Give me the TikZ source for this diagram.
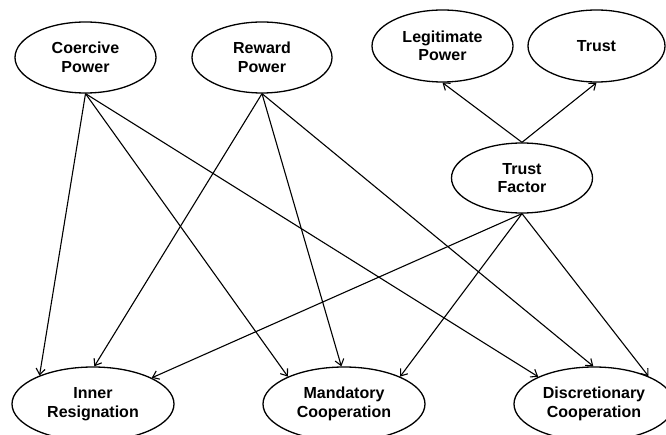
\documentclass[tikz,border=0pt]{standalone}
\usepackage{fontspec}
\setmainfont{Liberation Sans}
\usetikzlibrary{shapes.geometric,arrows.meta}
\tikzset{
  oval/.style={draw, ellipse, line width=1.3pt, inner sep=0pt, align=center,
    font=\fontsize{16}{18.5}\selectfont\bfseries},
  conn/.style={line width=1.1pt, -{Straight Barb[length=6pt,width=9pt,line width=1.1pt]}}
}
\begin{document}
\begin{tikzpicture}[x=1pt,y=-1pt]
\useasboundingbox (0,0) rectangle (666,435);
\clip (0,0) rectangle (666,435);
\node[oval, minimum width=141pt, minimum height=71pt] (co) at (85.5,57.5) {Coercive\\Power};
\node[oval, minimum width=140pt, minimum height=71pt] (re) at (262,57.5) {Reward\\Power};
\node[oval, minimum width=141pt, minimum height=72pt] (le) at (442.5,46) {Legitimate\\Power};
\node[oval, minimum width=137pt, minimum height=72pt] (tr) at (596.5,46) {Trust};
\node[oval, minimum width=141pt, minimum height=70pt] (tf) at (522,178) {Trust\\Factor};
\node[oval, minimum width=162pt, minimum height=74pt] (ir) at (93,404) {Inner\\Resignation};
\node[oval, minimum width=162pt, minimum height=74pt] (mc) at (344,404) {Mandatory\\Cooperation};
\node[oval, minimum width=160pt, minimum height=74pt] (dc) at (594,404) {Discretionary\\Cooperation};
\draw[conn] (tf.north) -- (le.south);
\draw[conn] (tf.north) -- (tr.south);
\draw[conn] (co.south) -- (ir.152);
\draw[conn] (co.south) -- (mc.154);
\draw[conn] (co.south) -- (dc.154);
\draw[conn] (re.south) -- (ir.88);
\draw[conn] (re.south) -- (mc.94);
\draw[conn] (re.south) -- (dc.91);
\draw[conn] (tf.south) -- (ir.24);
\draw[conn] (tf.south) -- (mc.26);
\draw[conn] (tf.south) -- (dc.27);
\end{tikzpicture}
\end{document}
